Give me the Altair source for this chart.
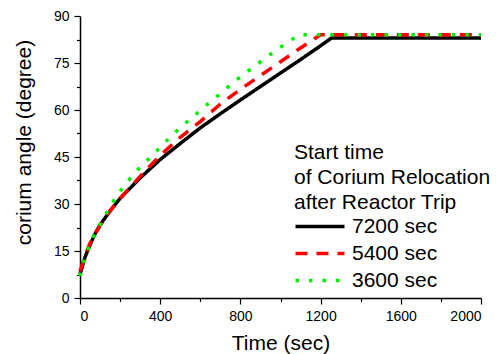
import altair as alt
import pandas as pd

# Series: time (sec) and corium angle (degree)
t_7200 = [0, 25, 50, 75, 100, 150, 200, 300, 400, 500, 600, 700, 800, 900, 1000, 1100, 1200, 1255, 2000]
a_7200 = [7.5, 13.0, 17.0, 20.5, 23.3, 27.8, 31.8, 38.3, 44.2, 49.3, 54.3, 58.8, 63.2, 67.5, 71.8, 76.1, 80.5, 83.0, 83.0]

t_5400 = [0, 25, 50, 100, 150, 200, 300, 400, 500, 600, 700, 800, 900, 1000, 1100, 1200, 2000]
a_5400 = [8.5, 13.5, 17.5, 23.2, 27.8, 31.8, 38.8, 45.5, 51.3, 56.3, 61.9, 66.6, 71.0, 75.4, 79.8, 84.0, 84.0]

t_3600 = [0, 25, 58, 100, 141, 183, 233, 283, 341, 399, 452, 509, 569, 627, 687, 748, 809, 869, 930, 991, 1054, 1090, 2000]
a_3600 = [7.0, 13.0, 18.5, 23.4, 28.1, 32.6, 36.8, 40.6, 44.3, 48.0, 51.5, 54.9, 58.1, 61.4, 64.5, 67.9, 71.0, 73.9, 76.8, 79.7, 82.3, 84.0, 84.0]

series_names = ["7200 sec", "5400 sec", "3600 sec"]
series_colors = ["#000000", "#ff0000", "#00ee00"]
x_ticks = [0, 200, 400, 600, 800, 1000, 1200, 1400, 1600, 1800, 2000]
y_ticks = [0, 7.5, 15, 22.5, 30, 37.5, 45, 52.5, 60, 67.5, 75, 82.5, 90]

frames = []
for name, t, a in zip(series_names, [t_7200, t_5400, t_3600], [a_7200, a_5400, a_3600]):
    frames.append(pd.DataFrame({"time": t, "angle": a, "series": name}))
df = pd.concat(frames, ignore_index=True)

FONT = "Liberation Sans"

color = alt.Color(
    "series:N",
    scale=alt.Scale(domain=series_names, range=series_colors),
    legend=alt.Legend(
        title=["Start time", "of Corium Relocation", "after Reactor Trip"],
        orient="none",
        legendX=214,
        legendY=126,
        titleFont=FONT,
        titleFontSize=21,
        titleFontWeight="normal",
        titleColor="black",
        titleLineHeight=25,
        titlePadding=3,
        titleLimit=400,
        labelFont=FONT,
        labelFontSize=21,
        labelColor="black",
        labelLimit=300,
        labelOffset=37,
        symbolType="M-1.8,0H8.0",
        symbolSize=100,
        symbolStrokeWidth=3.5,
        rowPadding=5,
    ),
)
dash = alt.StrokeDash(
    "series:N",
    scale=alt.Scale(domain=series_names, range=[[1, 0], [12, 9], [3.5, 10]]),
)

base = alt.Chart(df).encode(
    x=alt.X(
        "time:Q",
        scale=alt.Scale(domain=[0, 2000], nice=False),
        axis=alt.Axis(
            title="Time (sec)",
            values=x_ticks,
            labelExpr="datum.value % 400 === 0 ? datum.label : ''",
            format="d",
            labelPadding=5,
            tickSize={"condition": {"test": "datum.value % 400 === 0", "value": 6}, "value": 3.5},
        ),
    ),
    y=alt.Y(
        "angle:Q",
        scale=alt.Scale(domain=[0, 90], nice=False),
        axis=alt.Axis(
            title="corium angle (degree)",
            values=y_ticks,
            labelExpr="datum.value % 15 === 0 ? datum.label : ''",
            labelPadding=5,
            titleY=126,
            tickSize={"condition": {"test": "datum.value % 15 === 0", "value": 6}, "value": 3.5},
        ),
    ),
    color=color,
    strokeDash=dash,
)

layers = [
    base.transform_filter(alt.datum.series == name).mark_line(strokeWidth=3.5, strokeCap="butt")
    for name in series_names
]

chart = (
    alt.layer(*layers)
    .properties(
        width=401,
        height=282,
        autosize="none",
        padding={"left": 80, "top": 16, "right": 18, "bottom": 56},
    )
    .configure_view(stroke=None)
    .configure_axis(
        grid=False,
        domainColor="black",
        domainWidth=1.5,
        tickColor="black",
        tickWidth=1.2,
        labelFont=FONT,
        labelFontSize=14,
        labelColor="black",
        titleFont=FONT,
        titleFontSize=21,
        titleFontWeight="normal",
        titleColor="black",
    )
    .configure_axisY(titlePadding=19)
    .configure_axisX(titlePadding=9)
)

chart.save("out.html", embed_options={"renderer": "svg", "actions": False})
